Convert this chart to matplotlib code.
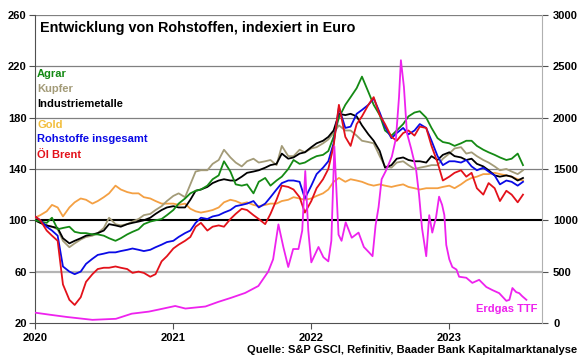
import pandas as pd
import matplotlib
matplotlib.use('Agg')
import matplotlib.pyplot as plt
import matplotlib.dates as mdates

plt.rcParams['font.family'] = ['Liberation Sans', 'DejaVu Sans']
plt.rcParams['font.weight'] = 'bold'

dates = pd.date_range('2020-01-01', periods=86, freq='SMS')

agrar = [100, 99, 98, 102, 93, 94, 95, 91, 90, 90, 89, 89, 88, 86, 84, 86,
         89, 91, 93, 97, 99, 100, 101, 104, 108, 113, 117, 121, 123, 124, 127, 132,
         135, 146, 138, 128, 127, 128, 121, 130, 133, 127, 131, 134, 140, 147, 144, 145,
         148, 150, 151, 154, 165, 180, 190, 196, 203, 212, 200, 190, 182, 170, 166, 170,
         175, 181, 184, 185, 180, 172, 164, 161, 160, 158, 160, 162, 162, 158, 155, 153,
         151, 149, 147, 148, 152, 143]

kupfer = [100, 98, 96, 95, 93, 84, 79, 82, 85, 87, 88, 90, 94, 102, 97, 96,
          97, 99, 101, 104, 105, 108, 111, 115, 119, 121, 118, 128, 138, 139, 139, 144,
          147, 155, 149, 145, 142, 146, 148, 145, 146, 147, 143, 158, 150, 150, 155, 153,
          156, 157, 160, 163, 168, 174, 170, 170, 166, 162, 161, 160, 150, 142, 141, 145,
          146, 143, 140, 141, 142, 143, 143, 148, 152, 156, 157, 152, 153, 150, 147, 145,
          142, 139, 140, 138, 136, 139]

industriemetalle = [100, 98, 96, 95, 94, 86, 82, 84, 86, 88, 89, 90, 92, 97, 96, 95,
                    97, 98, 99, 100, 102, 105, 108, 110, 111, 110, 110, 116, 123, 124, 126, 129,
                    131, 132, 131, 131, 134, 137, 138, 139, 141, 143, 144, 152, 148, 149, 152, 153,
                    157, 160, 162, 165, 170, 183, 182, 183, 181, 174, 167, 162, 154, 141, 143, 148,
                    149, 147, 146, 146, 145, 150, 147, 151, 153, 150, 149, 147, 148, 144, 142, 139,
                    135, 134, 135, 134, 131, 133]

gold = [102, 104, 107, 112, 110, 103, 110, 114, 117, 116, 113, 115, 118, 121, 127, 124,
        122, 121, 121, 118, 117, 115, 113, 113, 113, 112, 113, 109, 107, 106, 107, 108,
        110, 114, 116, 115, 113, 114, 112, 111, 112, 113, 113, 115, 116, 118, 117, 116,
        117, 119, 121, 124, 130, 133, 130, 132, 131, 130, 128, 127, 128, 127, 126, 127,
        128, 126, 125, 124, 125, 125, 125, 126, 127, 125, 128, 131, 133, 134, 136, 136,
        137, 136, 135, 134, 132, 131]

rohstoffe = [103, 100, 95, 92, 88, 64, 60, 58, 60, 66, 70, 73, 74, 75, 75, 76,
             77, 78, 77, 76, 77, 79, 81, 83, 84, 87, 90, 92, 98, 102, 101, 103,
             104, 106, 108, 111, 112, 113, 115, 110, 113, 118, 124, 129, 131, 131, 130, 117,
             127, 136, 141, 146, 160, 188, 172, 173, 183, 186, 190, 195, 184, 173, 164, 168,
             172, 167, 170, 175, 172, 162, 150, 143, 146, 146, 145, 147, 142, 139, 141, 138,
             135, 128, 131, 130, 127, 130]

oel_brent = [103, 100, 92, 88, 84, 50, 38, 34, 40, 52, 58, 62, 63, 63, 64, 63,
             62, 59, 60, 59, 56, 58, 68, 72, 78, 81, 84, 87, 95, 98, 92, 95,
             96, 95, 101, 105, 109, 108, 104, 101, 97, 105, 116, 127, 126, 124, 118, 106,
             115, 125, 132, 140, 158, 190, 165, 158, 175, 181, 190, 196, 182, 175, 165, 162,
             168, 170, 166, 173, 172, 158, 145, 131, 134, 137, 139, 134, 137, 125, 120, 129,
             125, 115, 123, 120, 114, 120]

# Erdgas TTF (right axis, Jan 2020 = 100 on a 0..3000 scale)
gas_dates = pd.to_datetime([
    '2020-01-01', '2020-02-09', '2020-03-25', '2020-06-01', '2020-08-02', '2020-09-13',
    '2020-10-28', '2020-11-23', '2021-01-06', '2021-02-02', '2021-03-27', '2021-04-30',
    '2021-06-03', '2021-07-10', '2021-08-14', '2021-09-09', '2021-09-22', '2021-10-06',
    '2021-10-19', '2021-11-01', '2021-11-14', '2021-11-28', '2021-12-08', '2021-12-16',
    '2021-12-24', '2022-01-01', '2022-01-20', '2022-02-02', '2022-02-15', '2022-02-23',
    '2022-03-03', '2022-03-14', '2022-03-22', '2022-04-02', '2022-04-18', '2022-05-06',
    '2022-05-20', '2022-06-02', '2022-06-12', '2022-06-20', '2022-06-28', '2022-07-06',
    '2022-07-17', '2022-08-02', '2022-08-13', '2022-08-21', '2022-08-26', '2022-09-03',
    '2022-09-11', '2022-09-22', '2022-10-05', '2022-10-13', '2022-10-21', '2022-11-01',
    '2022-11-09', '2022-11-17', '2022-11-27', '2022-12-05', '2022-12-13', '2022-12-19',
    '2022-12-24', '2023-01-01', '2023-01-09', '2023-01-20', '2023-01-27', '2023-02-15',
    '2023-03-03', '2023-03-21', '2023-04-09', '2023-04-25', '2023-05-13', '2023-06-01',
    '2023-06-09', '2023-06-17', '2023-06-27', '2023-07-05', '2023-07-13', '2023-07-24'])
gas = [100, 80, 58, 30, 40, 90, 110, 130, 165, 140, 160, 205,
       245, 292, 360, 500, 620, 960, 740, 545, 720, 720, 900, 1480,
       900, 590, 740, 640, 600, 800, 1720, 860, 800, 980, 830, 880,
       740, 690, 650, 950, 1130, 1400, 1480, 1620, 1800, 2200, 2560, 2300,
       1850, 1700, 1500, 1250, 920, 650, 1050, 880, 1030, 1230, 1150, 1050,
       760, 620, 545, 520, 450, 440, 390, 420, 350, 320, 290, 215,
       225, 340, 300, 290, 260, 225]

series = [
    ('Gold', gold, '#F4A043', '#F2BE3C'),
    ('Kupfer', kupfer, '#A39B78', '#A39B78'),
    ('Industriemetalle', industriemetalle, '#000000', '#000000'),
    ('Agrar', agrar, '#148A14', '#148A14'),
    ('Rohstoffe insgesamt', rohstoffe, '#0A0AE6', '#0A0AE6'),
    ('Öl Brent', oel_brent, '#E3111A', '#E3111A'),
]
label_order = ['Agrar', 'Kupfer', 'Industriemetalle', 'Gold', 'Rohstoffe insgesamt', 'Öl Brent']
label_y = [0.808, 0.760, 0.711, 0.643, 0.597, 0.545]
GAS_COLOR = '#EE22EE'

# ── figure ────────────────────────────────────────────────────────────────
fig = plt.figure(figsize=(5.8, 3.58), dpi=100)
ax = fig.add_axes([0.0603, 0.098, 0.874, 0.860])

for name, vals, col, _ in series:
    ax.plot(dates, vals, color=col, lw=1.3, zorder=3)

ax.set_ylim(20, 260)
ax.set_yticks(range(20, 261, 40))
ax.set_xlim(pd.Timestamp('2020-01-01'), pd.Timestamp('2023-09-03'))
ax.xaxis.set_major_locator(mdates.YearLocator())
ax.xaxis.set_major_formatter(mdates.DateFormatter('%Y'))

for yv in [140, 180, 220, 260]:
    ax.axhline(yv, color='#808080', lw=0.9, zorder=1)
ax.axhline(60, color='#B4B4B4', lw=1.6, zorder=1)
ax.axhline(100, color='black', lw=1.5, zorder=2)

for s in ['top', 'right']:
    ax.spines[s].set_visible(False)
ax.spines['left'].set_color('#505050')
ax.spines['bottom'].set_color('#505050')
ax.tick_params(axis='both', labelsize=8, colors='black', length=4, width=0.8,
               direction='out', pad=2)
ax.tick_params(axis='y', color='#505050')
ax.tick_params(axis='x', color='#505050', pad=3)

ax2 = ax.twinx()
ax2.plot(gas_dates, gas, color=GAS_COLOR, lw=1.3)
ax2.set_ylim(0, 3000)
ax2.set_yticks(range(0, 3001, 500))
for s in ['top', 'left', 'bottom']:
    ax2.spines[s].set_visible(False)
ax2.spines['right'].set_color('#B0B0B0')
ax2.tick_params(axis='y', labelsize=8, length=4, width=0.8, color='#505050', pad=4)

# ── texts ─────────────────────────────────────────────────────────────────
ax.text(0.01, 0.957, 'Entwicklung von Rohstoffen, indexiert in Euro',
        transform=ax.transAxes, fontsize=10.4, fontweight='bold', va='center')

colors = {n: lc for n, _, _, lc in series}
for name, yy in zip(label_order, label_y):
    ax.text(0.004, yy, name, transform=ax.transAxes, fontsize=8,
            fontweight='bold', color=colors[name], va='center')

ax.text(0.992, 0.045, 'Erdgas TTF', transform=ax.transAxes, fontsize=8,
        fontweight='bold', color=GAS_COLOR, ha='right', va='center')

fig.text(0.995, 0.022, 'Quelle: S&P GSCI, Refinitiv, Baader Bank Kapitalmarktanalyse',
         fontsize=8, fontweight='bold', ha='right', va='center')

fig.savefig('out.png', dpi=100)
